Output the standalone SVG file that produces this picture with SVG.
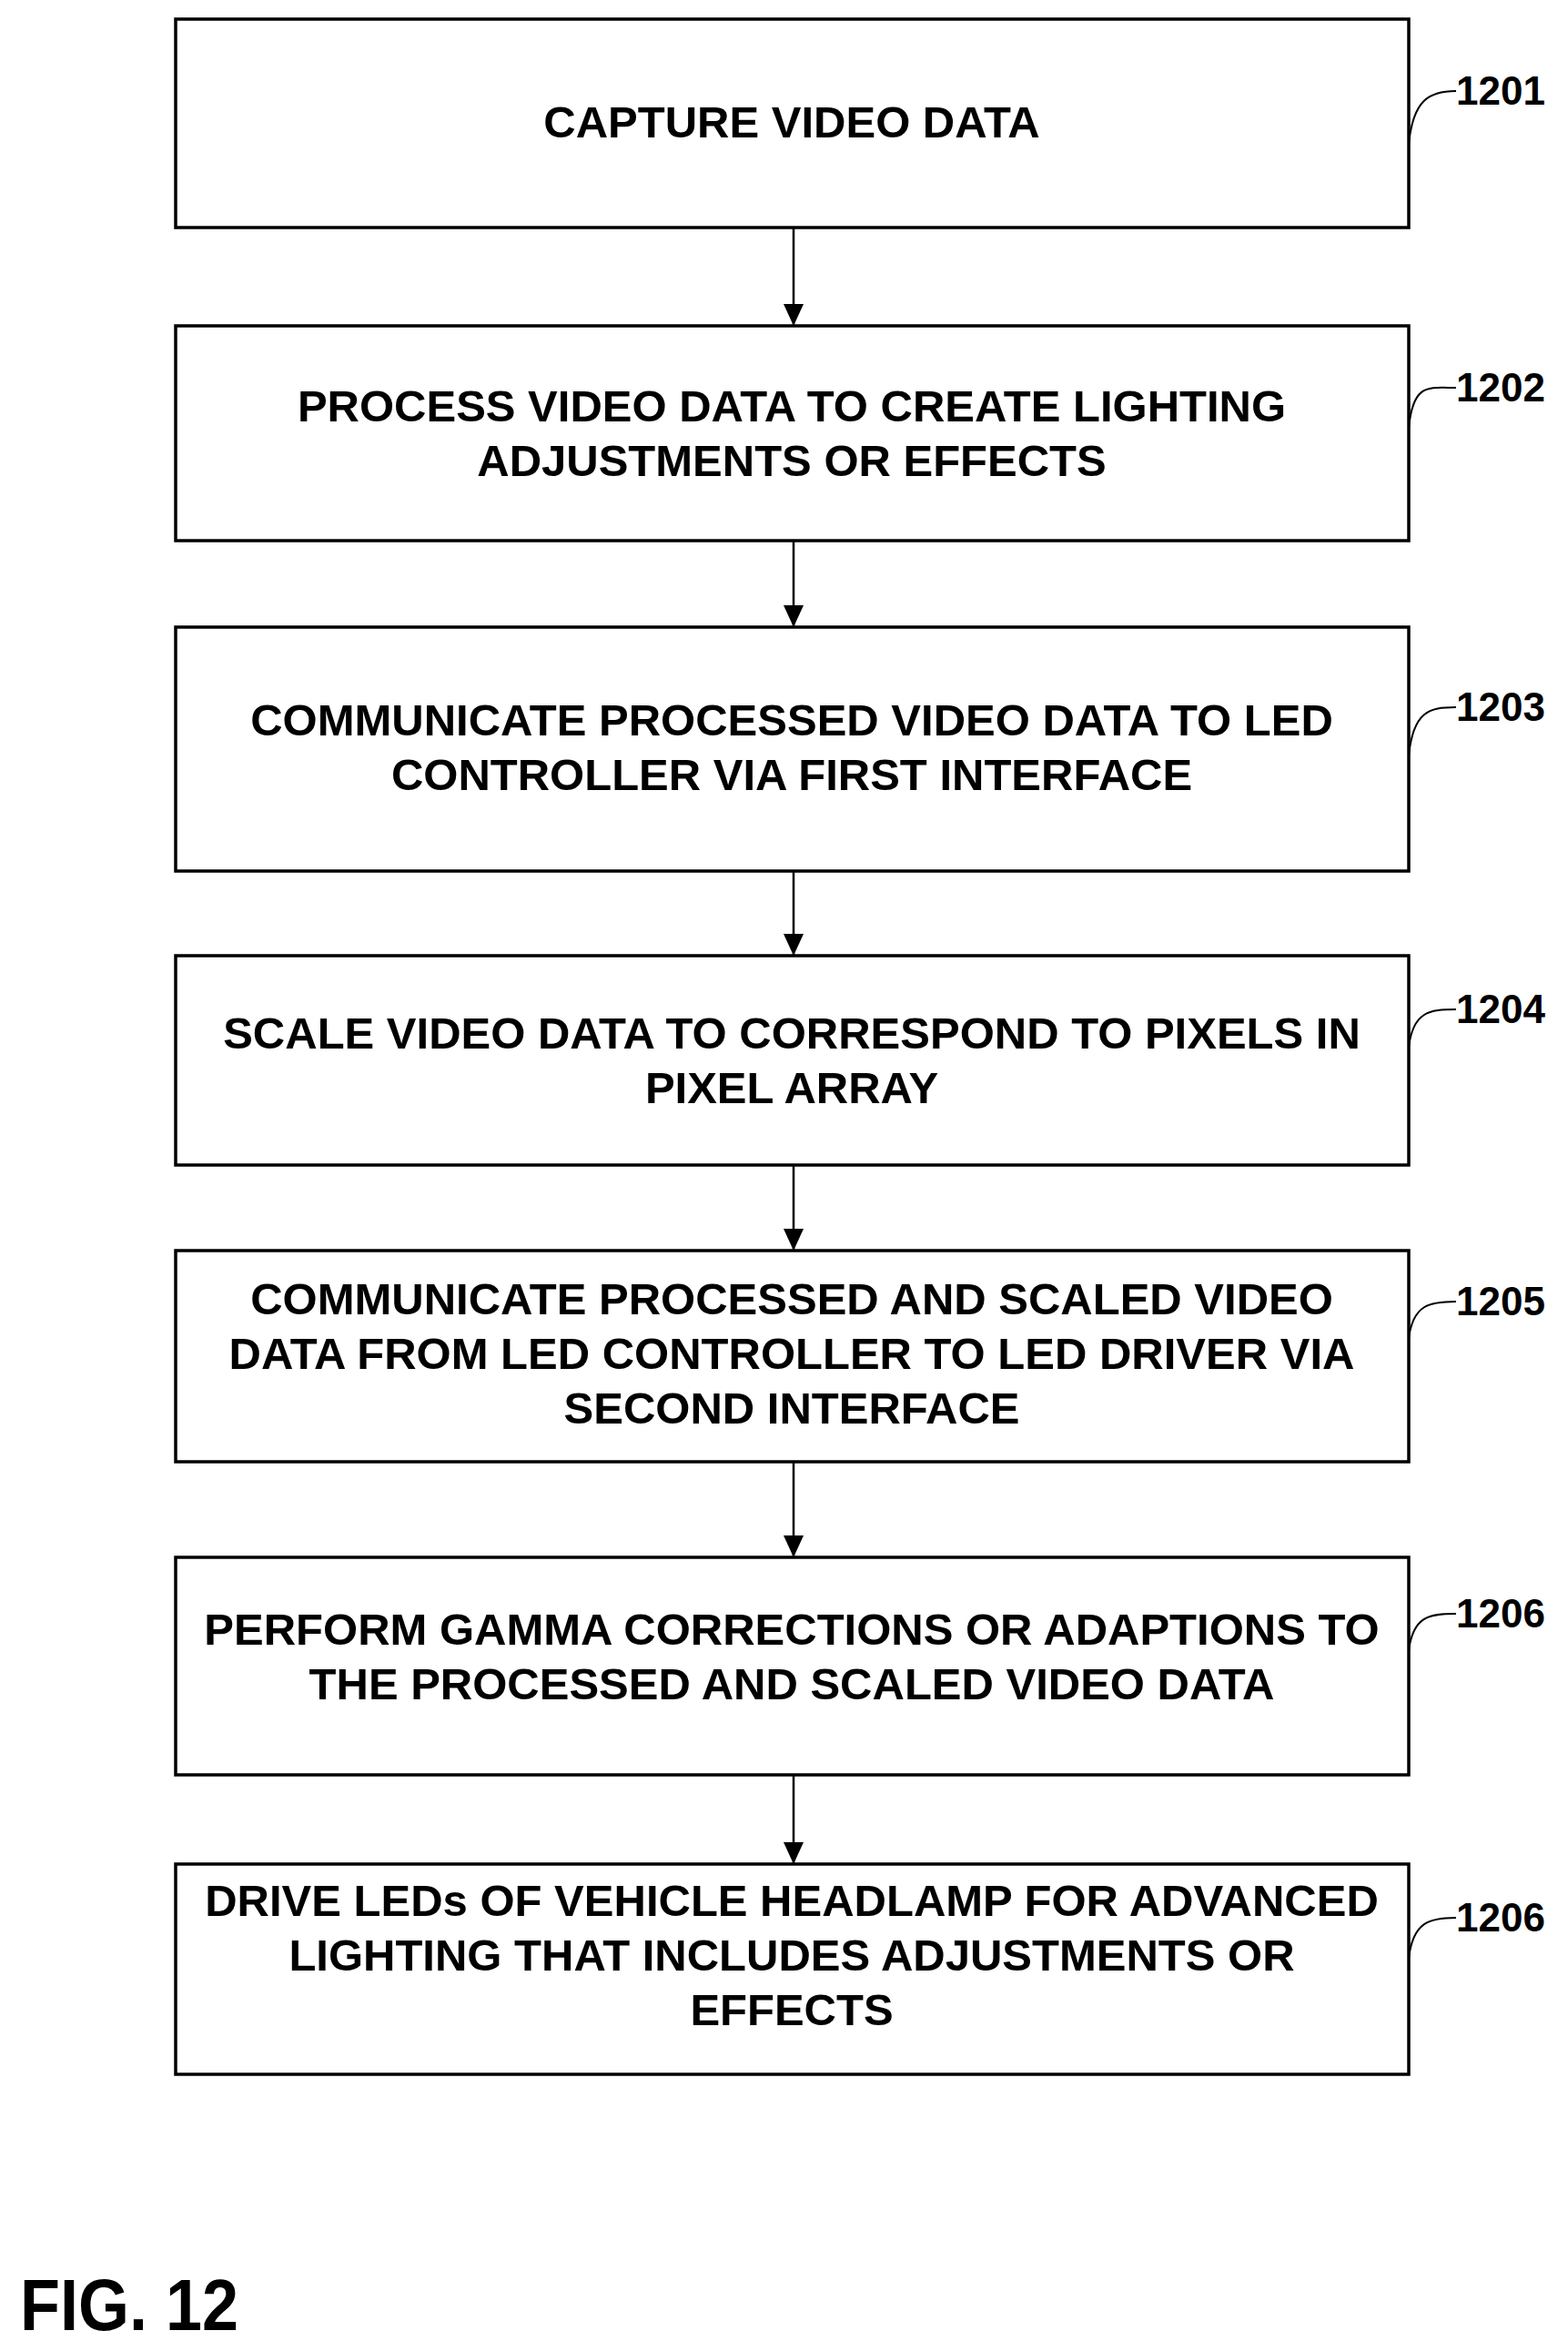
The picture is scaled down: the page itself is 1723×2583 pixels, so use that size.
<svg xmlns="http://www.w3.org/2000/svg" width="1723" height="2583" viewBox="0 0 1723 2583">
<style>
.box{fill:#fff;stroke:#000;stroke-width:3.5}
.t{font-family:"Liberation Sans",Arial,sans-serif;font-weight:bold;font-size:49px;text-anchor:middle;fill:#000}
.lbl{font-family:"Liberation Sans",Arial,sans-serif;font-weight:bold;font-size:44px;fill:#000}
.ld{fill:none;stroke:#000;stroke-width:2}
.c{stroke:#000;stroke-width:2.5;fill:none;marker-end:url(#ah)}
</style>
<defs>
<marker id="ah" markerUnits="userSpaceOnUse" markerWidth="24" markerHeight="22" refX="24" refY="11" orient="auto" viewBox="0 0 24 22">
<path d="M0,0 L24,11 L0,22 Z" fill="#000"/>
</marker>
</defs>
<rect width="1723" height="2583" fill="#fff"/>
<g id="connectors">
<line class="c" x1="872" y1="250" x2="872" y2="358"/>
<line class="c" x1="872" y1="594" x2="872" y2="689"/>
<line class="c" x1="872" y1="957" x2="872" y2="1050"/>
<line class="c" x1="872" y1="1280" x2="872" y2="1374"/>
<line class="c" x1="872" y1="1606" x2="872" y2="1711"/>
<line class="c" x1="872" y1="1950" x2="872" y2="2048"/>
</g>
<g id="n1201">
<rect class="box" x="193" y="21" width="1355" height="229"/>
<text class="t" x="870" y="151">CAPTURE VIDEO DATA</text>
<path class="ld" d="M1548,158 C1553,110 1570,100 1600,100"/>
<text class="lbl" x="1600" y="115">1201</text>
</g>
<g id="n1202">
<rect class="box" x="193" y="358" width="1355" height="236"/>
<text class="t" x="870" y="463">PROCESS VIDEO DATA TO CREATE LIGHTING</text>
<text class="t" x="870" y="523">ADJUSTMENTS OR EFFECTS</text>
<path class="ld" d="M1548,470 C1553,420 1570,426 1600,426"/>
<text class="lbl" x="1600" y="441">1202</text>
</g>
<g id="n1203">
<rect class="box" x="193" y="689" width="1355" height="268"/>
<text class="t" x="870" y="808">COMMUNICATE PROCESSED VIDEO DATA TO LED</text>
<text class="t" x="870" y="868">CONTROLLER VIA FIRST INTERFACE</text>
<path class="ld" d="M1548,830 C1553,782 1570,777 1600,777"/>
<text class="lbl" x="1600" y="792">1203</text>
</g>
<g id="n1204">
<rect class="box" x="193" y="1050" width="1355" height="230"/>
<text class="t" x="870" y="1152">SCALE VIDEO DATA TO CORRESPOND TO PIXELS IN</text>
<text class="t" x="870" y="1212">PIXEL ARRAY</text>
<path class="ld" d="M1548,1150 C1553,1112 1570,1109 1600,1109"/>
<text class="lbl" x="1600" y="1124">1204</text>
</g>
<g id="n1205">
<rect class="box" x="193" y="1374" width="1355" height="232"/>
<text class="t" x="870" y="1444">COMMUNICATE PROCESSED AND SCALED VIDEO</text>
<text class="t" x="870" y="1504">DATA FROM LED CONTROLLER TO LED DRIVER VIA</text>
<text class="t" x="870" y="1564">SECOND INTERFACE</text>
<path class="ld" d="M1548,1470 C1553,1434 1570,1430 1600,1430"/>
<text class="lbl" x="1600" y="1445">1205</text>
</g>
<g id="n1206">
<rect class="box" x="193" y="1711" width="1355" height="239"/>
<text class="t" x="870" y="1807">PERFORM GAMMA CORRECTIONS OR ADAPTIONS TO</text>
<text class="t" x="870" y="1867">THE PROCESSED AND SCALED VIDEO DATA</text>
<path class="ld" d="M1548,1813 C1553,1776 1570,1773 1600,1773"/>
<text class="lbl" x="1600" y="1788">1206</text>
</g>
<g id="n1207">
<rect class="box" x="193" y="2048" width="1355" height="231"/>
<text class="t" x="870" y="2105">DRIVE LEDs OF VEHICLE HEADLAMP FOR ADVANCED</text>
<text class="t" x="870" y="2165">LIGHTING THAT INCLUDES ADJUSTMENTS OR</text>
<text class="t" x="870" y="2225">EFFECTS</text>
<path class="ld" d="M1548,2151 C1553,2112 1570,2107 1600,2107"/>
<text class="lbl" x="1600" y="2122">1206</text>
</g>
<text class="t" x="22" y="2560" style="text-anchor:start;font-size:80px" textLength="240" lengthAdjust="spacingAndGlyphs">FIG. 12</text>
</svg>
